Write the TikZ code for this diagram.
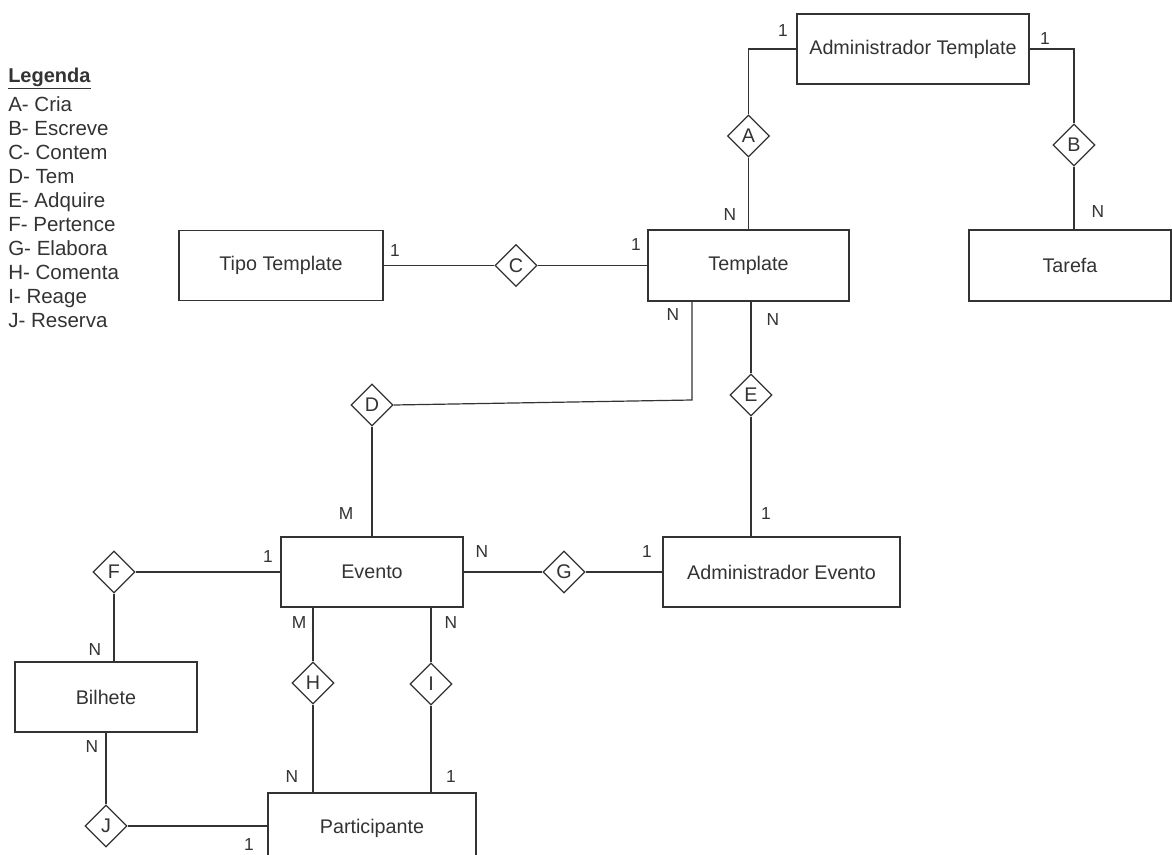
\documentclass[tikz,border=0pt]{standalone}
\usepackage{fontspec}
\setmainfont{Liberation Sans}
\usetikzlibrary{shapes.geometric}
\definecolor{ink}{HTML}{333333}
\begin{document}
\begin{tikzpicture}[x=0.75pt,y=-0.75pt,
  ent/.style={draw=ink,line width=0.9pt,rectangle,inner sep=0pt,text=ink,font=\fontsize{14.8}{17}\selectfont},
  rel/.style={draw=ink,line width=0.9pt,diamond,inner sep=0pt,minimum width={42*0.75pt},minimum height={42*0.75pt},text=ink,font=\fontsize{14.8}{17}\selectfont},
  card/.style={text=ink,inner sep=0pt,font=\fontsize{13}{15}\selectfont},
  leg/.style={text=ink,inner sep=0pt,anchor=base west,font=\fontsize{15.4}{18}\selectfont},
  conn/.style={draw=ink,line width=0.9pt}]
\useasboundingbox (0,0) rectangle (1172,854);
\clip (0,0) rectangle (1172,854);
% legend
\node[leg,font=\fontsize{15}{18}\selectfont\bfseries] (legT) at (8,82) {\underline{Legenda}};
\foreach \l/\t/\i in {A/Cria/0,B/Escreve/1,C/Contem/2,D/Tem/3,E/Adquire/4,F/Pertence/5,G/Elabora/6,H/Comenta/7,I/Reage/8,J/Reserva/9}
  \node[leg] (leg\l) at (8,{111+24.1*\i}) {\l- \t};
% entities
\node[ent,minimum width={232*0.75pt},minimum height={70*0.75pt}] (admT) at (913,49) {Administrador Template};
\node[ent,minimum width={201*0.75pt},minimum height={71*0.75pt}] (tmpl) at (748.5,265.5) {Template};
\node[ent,minimum width={202*0.75pt},minimum height={71*0.75pt}] (tar) at (1070,265.5) {Tarefa};
\node[ent,minimum width={204*0.75pt},minimum height={70*0.75pt}] (tipo) at (281,265.5) {Tipo Template};
\node[ent,minimum width={182*0.75pt},minimum height={70*0.75pt}] (ev) at (372,572) {Evento};
\node[ent,minimum width={237*0.75pt},minimum height={70*0.75pt}] (admE) at (781.5,572) {Administrador Evento};
\node[ent,minimum width={182*0.75pt},minimum height={70*0.75pt}] (bil) at (106,697) {Bilhete};
\node[ent,minimum width={208*0.75pt},minimum height={70*0.75pt}] (part) at (372,828) {Participante};
% relationships
\node[rel] (A) at (748.5,136) {A};
\node[rel] (B) at (1074,145) {B};
\node[rel] (C) at (516,265.5) {C};
\node[rel] (D) at (372,405) {D};
\node[rel] (E) at (751,395) {E};
\node[rel] (F) at (114,572) {F};
\node[rel] (G) at (564,572) {G};
\node[rel] (H) at (313,683) {H};
\node[rel] (I) at (431,684) {I};
\node[rel] (J) at (106,826) {J};
% connectors
\draw[conn] (admT.west) -| (A.north);
\draw[conn] (A.south) -- (A.south |- tmpl.north);
\draw[conn] (admT.east) -| (B.north);
\draw[conn] (B.south) -- (B.south |- tar.north);
\draw[conn] (tipo.east) -- (C.west);
\draw[conn] (C.east) -- (tmpl.west);
\coordinate (dk) at (692,400);
\draw[conn] (dk |- tmpl.south) -- (dk) -- (D.east);
\draw[conn] (D.south) -- (ev.north);
\draw[conn] (E.north |- tmpl.south) -- (E.north);
\draw[conn] (E.south) -- (E.south |- admE.north);
\draw[conn] (F.east) -- (ev.west);
\draw[conn] (F.south) -- (F.south |- bil.north);
\draw[conn] (ev.east) -- (G.west);
\draw[conn] (G.east) -- (admE.west);
\draw[conn] (H.north |- ev.south) -- (H.north);
\draw[conn] (H.south) -- (H.south |- part.north);
\draw[conn] (I.north |- ev.south) -- (I.north);
\draw[conn] (I.south) -- (I.south |- part.north);
\draw[conn] (J.north |- bil.south) -- (J.north);
\draw[conn] (J.east) -- (J.east -| part.west);
% cardinalities
\node[card] (cA1) at (783,31) {1};
\node[card] (cAN) at (730,215) {N};
\node[card] (cB1) at (1045,39) {1};
\node[card] (cBN) at (1098,212) {N};
\node[card] (cC1) at (395,251) {1};
\node[card] (cC2) at (636,245) {1};
\node[card] (cDN) at (673,315) {N};
\node[card] (cDM) at (346,514) {M};
\node[card] (cEN) at (773,320) {N};
\node[card] (cE1) at (766,514) {1};
\node[card] (cF1) at (268,557) {1};
\node[card] (cFN) at (95,650) {N};
\node[card] (cGN) at (482,552) {N};
\node[card] (cG1) at (647,552) {1};
\node[card] (cHM) at (299,623) {M};
\node[card] (cHN) at (292,777) {N};
\node[card] (cIN) at (451,623) {N};
\node[card] (cI1) at (451,777) {1};
\node[card] (cJN) at (92,747) {N};
\node[card] (cJ1) at (249,845) {1};
\end{tikzpicture}
\end{document}
